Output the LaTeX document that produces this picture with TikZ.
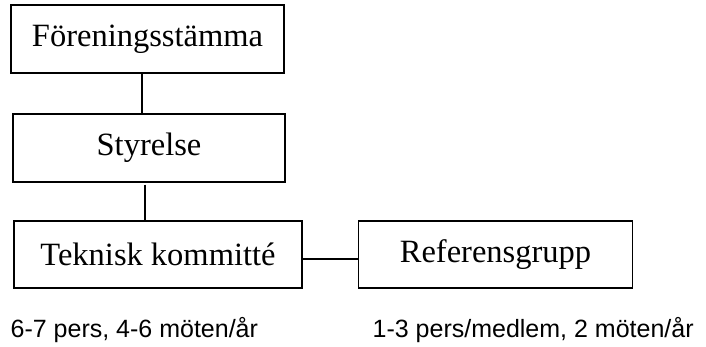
\documentclass[tikz,border=0pt]{standalone}
\usepackage{fontspec}
\setmainfont{Liberation Serif}
\newfontfamily\arialfont{Liberation Sans}
\usetikzlibrary{positioning}

\begin{document}
\begin{tikzpicture}[x=1pt,y=-1pt,line width=1.3pt,
	box/.style={draw,rectangle,inner sep=0pt,font=\fontsize{32.5}{38}\selectfont},
	note/.style={inner sep=0pt,anchor=base west,font=\arialfont\fontsize{25}{30}\selectfont}]
	   \useasboundingbox (0,0) rectangle (706,347);
	   \node[box,minimum width=273pt,minimum height=68pt] (fs)  at (147.5,39)  {Föreningsstämma};
	   \node[box,minimum width=272pt,minimum height=68pt] (sty) at (149,148)   {Styrelse};
	   \node[box,minimum width=288pt,minimum height=67pt] (tk)  at (158,254.5) {Teknisk kommitté};
	   \node[box,minimum width=274pt,minimum height=67pt] (ref) at (495.5,254.5) {Referensgrupp};
	   \node[note] (tknote)  at (10,337)  {6-7 pers, 4-6 möten/år};
	   \node[note] (refnote) at (372,337) {1-3 pers/medlem, 2 möten/år};
	    \draw ([xshift=-5.5pt]fs.south) -- ([xshift=-5.5pt]fs.south |- sty.north);
	    \draw ([xshift=-4pt,yshift=-2pt]sty.south) -- ([xshift=-4pt]sty.south |- tk.north);
	    \draw ([yshift=-4.5pt]tk.east) -- ([yshift=-4.5pt]tk.east -| ref.west);
	\end{tikzpicture}
\end{document}
